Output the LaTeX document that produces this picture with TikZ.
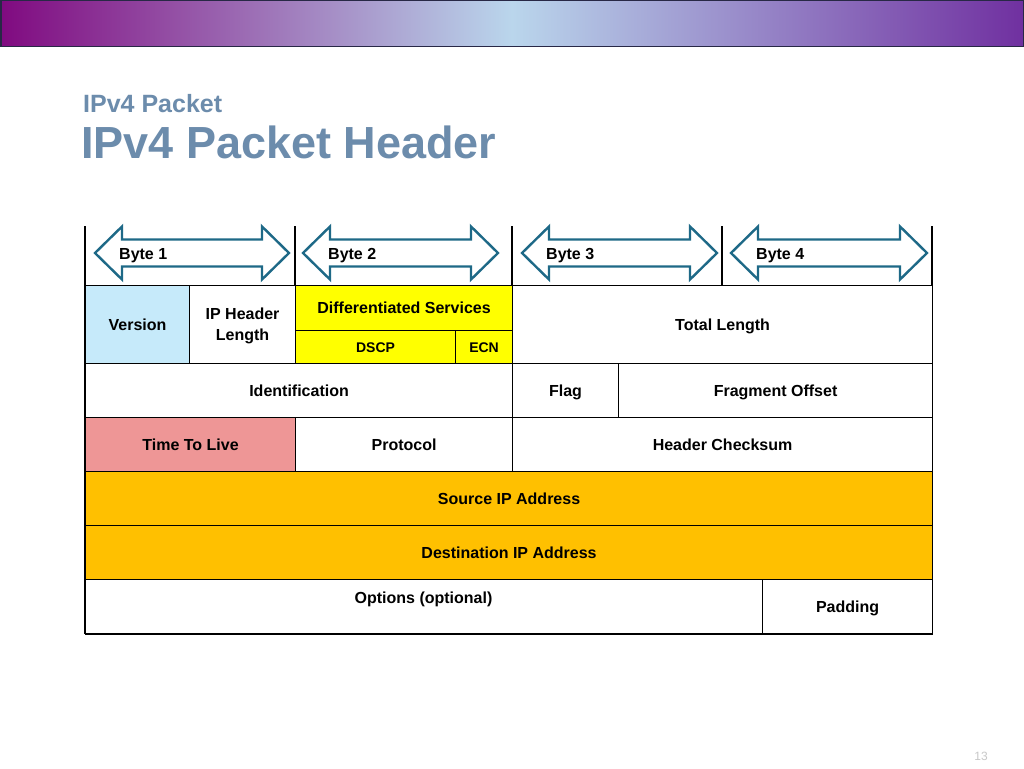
\documentclass[tikz,border=0pt]{standalone}
\usepackage{fontspec}
\setmainfont{Liberation Sans}
\definecolor{barL}{RGB}{128,10,128}
\definecolor{barM}{RGB}{186,214,236}
\definecolor{barR}{RGB}{112,48,160}
\definecolor{titlec}{RGB}{108,140,172}
\definecolor{arrowc}{RGB}{30,105,135}
\definecolor{verc}{RGB}{198,234,250}
\definecolor{ttlc}{RGB}{238,150,150}
\definecolor{ipc}{RGB}{255,192,0}
\definecolor{dsc}{RGB}{255,255,0}
\begin{document}
\begin{tikzpicture}[x=1pt,y=-1pt,
  cell/.style={draw=black, line width=1.1pt, rectangle, inner sep=0pt, anchor=north west,
    font=\fontsize{16}{21}\selectfont\bfseries, align=center, text height=11.5pt, text depth=0pt},
  smallcell/.style={cell, font=\fontsize{14}{17}\selectfont\bfseries, text height=10pt},
  txt/.style={inner sep=0pt, font=\fontsize{16}{20}\selectfont\bfseries},
  barrow/.style={draw=arrowc, line width=2.4pt, fill=white, line join=miter},
  sep/.style={draw=black, line width=1.1pt}]
\useasboundingbox (0,0) rectangle (1024,768);
\fill[white] (0,0) rectangle (1024,768);
% top bar
\shade[left color=barL, right color=barR, middle color=barM] (0,0) rectangle (1024,47);
\draw[draw={rgb,255:red,40;green,40;blue,70}, line width=1.5pt] (0.75,0.75) rectangle (1023.25,46.5);
% titles
\node[anchor=base west, inner sep=0pt, text=titlec, font=\fontsize{25}{30}\selectfont\bfseries] (sub) at (83,112) {IPv4 Packet};
\node[anchor=base west, inner sep=0pt, text=titlec, font=\fontsize{45}{54}\selectfont\bfseries] (ttl) at (81,158) {IPv4 Packet Header};
% byte row separators
\coordinate (s0t) at (85,226); \coordinate (s0b) at (85,285);
\coordinate (s1t) at (295,226); \coordinate (s1b) at (295,285);
\coordinate (s2t) at (512,226); \coordinate (s2b) at (512,285);
\coordinate (s3t) at (722,226); \coordinate (s3b) at (722,285);
\coordinate (s4t) at (932,226); \coordinate (s4b) at (932,285);
\foreach \i in {0,...,4} \draw[sep] (s\i t) -- (s\i b);
% arrows
\foreach \a/\b in {95/289, 303/498, 522/717, 731/927}{
  \draw[barrow] (\a,253) -- (\a+27,226.5) -- (\a+27,239.5) -- (\b-27,239.5) -- (\b-27,226.5)
    -- (\b,253) -- (\b-27,279.5) -- (\b-27,266.5) -- (\a+27,266.5) -- (\a+27,279.5) -- cycle;
}
\node[txt, anchor=base west] (b1) at (119,259) {Byte 1};
\node[txt, anchor=base west] (b2) at (328,259) {Byte 2};
\node[txt, anchor=base west] (b3) at (546,259) {Byte 3};
\node[txt, anchor=base west] (b4) at (756,259) {Byte 4};
% row 1
\node[cell, fill=verc, minimum width=104, minimum height=78] (ver) at (85,285) {Version};
\node[cell, fill=white, minimum width=106, minimum height=78, text height=32.5pt] (ihl) at (189,285) {IP Header\\Length};
\node[cell, fill=dsc, minimum width=217, minimum height=45] (ds) at (295,285) {Differentiated Services};
\node[smallcell, fill=dsc, minimum width=160, minimum height=33] (dscp) at (295,330) {DSCP};
\node[smallcell, fill=dsc, minimum width=57, minimum height=33] (ecn) at (455,330) {ECN};
\node[cell, fill=white, minimum width=420, minimum height=78] (tl) at (512,285) {Total Length};
% row 2
\node[cell, fill=white, minimum width=427, minimum height=54] (id) at (85,363) {Identification};
\node[cell, fill=white, minimum width=106, minimum height=54] (flag) at (512,363) {Flag};
\node[cell, fill=white, minimum width=314, minimum height=54] (fo) at (618,363) {Fragment Offset};
% row 3
\node[cell, fill=ttlc, minimum width=210, minimum height=54] (ttlv) at (85,417) {Time To Live};
\node[cell, fill=white, minimum width=217, minimum height=54] (proto) at (295,417) {Protocol};
\node[cell, fill=white, minimum width=420, minimum height=54] (hc) at (512,417) {Header Checksum};
% rows 4,5
\node[cell, fill=ipc, minimum width=847, minimum height=54] (src) at (85,471) {Source IP Address};
\node[cell, fill=ipc, minimum width=847, minimum height=54] (dst) at (85,525) {Destination IP Address};
% row 6
\node[cell, fill=white, minimum width=677, minimum height=54] (opt) at (85,579) {};
\node[txt, anchor=base] (optt) at (423.5,603) {Options (optional)};
\node[cell, fill=white, minimum width=170, minimum height=54] (pad) at (762,579) {Padding};
\draw[black, line width=1.8pt] (opt.south west) -- (pad.south east);
\draw[black, line width=1.6pt] (s0t) -- (opt.south west);
% page number
\node[inner sep=0pt, text={rgb,255:red,200;green,200;blue,200}, font=\fontsize{12}{14}\selectfont] (pg) at (981,756) {13};
\end{tikzpicture}
\end{document}
